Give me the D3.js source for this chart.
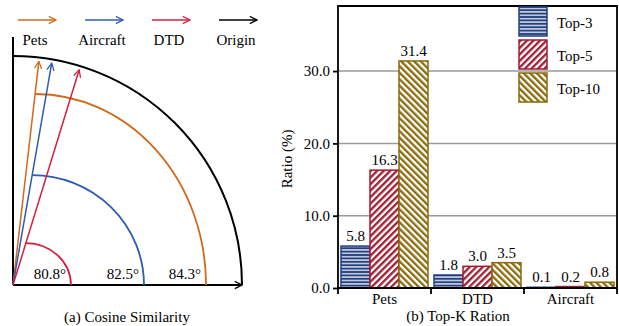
<!DOCTYPE html>
<html><head><meta charset="utf-8">
<script src="https://cdn.jsdelivr.net/npm/d3@7"></script>
<style>
body{margin:0;background:#fff;}
svg{display:block;font-family:"Liberation Serif","Times New Roman",serif;}
</style></head>
<body><svg id="fig" width="619" height="326"></svg>
<script>
// (a) cosine similarity sketch
const vecNames = ["Pets", "Aircraft", "DTD"];
const vecColors = ["#d06a1c", "#2d5cb0", "#d4203c"];
const angleLabels = [84.3, 82.5, 80.8];
const drawnAngles = [83.4, 80.1, 72.9];   // as sketched, degrees from the x axis
const arcReach = [0.843, 0.572, 0.253];   // where each arc lands on the x axis (unit radius)
const arcMeet = [0.834, 0.48, 0.183];     // height where the arc meets its vector
const vecLength = 0.983;

// (b) top-k ratio
const categories = ["Pets", "DTD", "Aircraft"];
const seriesNames = ["Top-3", "Top-5", "Top-10"];
const top3 = [5.8, 1.8, 0.1];
const top5 = [16.3, 3.0, 0.2];
const top10 = [31.4, 3.5, 0.8];
const yTicks = [0, 10, 20, 30];

const svg = d3.select("#fig");
const defs = svg.append("defs");

// arrow heads (open V)
function arrowMarker(id, color) {
    defs.append("marker")
        .attr("id", id)
        .attr("viewBox", "0 0 10 10")
        .attr("refX", 9).attr("refY", 5)
        .attr("markerWidth", 9).attr("markerHeight", 9)
        .attr("markerUnits", "userSpaceOnUse")
        .attr("orient", "auto")
        .append("path")
        .attr("d", "M1,1 L9,5 L1,9")
        .attr("fill", "none")
        .attr("stroke", color)
        .attr("stroke-width", 1.4);
}
vecColors.forEach((c, i) => arrowMarker("arr" + i, c));
arrowMarker("arrK", "#000");

// ---------- left panel ----------
const ox = 13, oy = 285;
const r = d3.scaleLinear().domain([0, 1]).range([0, 229]);
const gA = svg.append("g").attr("transform", `translate(${ox},${oy})`);

// legend row
const legNames = vecNames.concat(["Origin"]);
const legColors = vecColors.concat(["#000"]);
const legX = d3.scalePoint().domain(legNames).range([18, 219]);
legNames.forEach((n, i) => {
    const lx = legX(n);
    svg.append("line")
        .attr("x1", lx).attr("x2", lx + 38)
        .attr("y1", 20).attr("y2", 20)
        .attr("stroke", legColors[i]).attr("stroke-width", 1.5)
        .attr("marker-end", `url(#${i < 3 ? "arr" + i : "arrK"})`);
    svg.append("text")
        .attr("x", lx + 17).attr("y", 45)
        .attr("text-anchor", "middle")
        .attr("font-size", 15)
        .text(n);
});

// axes of the quarter
gA.append("line")
    .attr("x1", 0).attr("y1", 0).attr("x2", 0).attr("y2", -248)
    .attr("stroke", "#000").attr("stroke-width", 2);
gA.append("line")
    .attr("x1", 0).attr("y1", 0).attr("x2", r(1)).attr("y2", 0)
    .attr("stroke", "#000").attr("stroke-width", 2)
    .attr("marker-end", "url(#arrK)");

const outer = d3.path();
outer.arc(0, 0, r(1), -Math.PI / 2, 0);
gA.append("path")
    .attr("d", outer.toString())
    .attr("fill", "none").attr("stroke", "#000").attr("stroke-width", 2);

// angle arcs (drawn first so vectors sit on top)
vecNames.forEach((n, i) => {
    const a = drawnAngles[i] * Math.PI / 180;
    const h = r(arcMeet[i]);
    const xs = h / Math.tan(a);
    const xe = r(arcReach[i]);
    gA.append("path")
        .attr("d", `M${xs},${-h} A${xe - xs},${h} 0 0 1 ${xe},0`)
        .attr("fill", "none")
        .attr("stroke", vecColors[i]).attr("stroke-width", 1.8);
    gA.append("text")
        .attr("x", xe - 5).attr("y", -6)
        .attr("text-anchor", "end")
        .attr("font-size", 15)
        .text(angleLabels[i].toFixed(1) + "°");
});

vecNames.forEach((n, i) => {
    const a = drawnAngles[i] * Math.PI / 180;
    gA.append("line")
        .attr("x1", 0).attr("y1", 0)
        .attr("x2", r(vecLength) * Math.cos(a))
        .attr("y2", -r(vecLength) * Math.sin(a))
        .attr("stroke", vecColors[i]).attr("stroke-width", 1.5)
        .attr("marker-end", `url(#arr${i})`);
});

svg.append("text")
    .attr("x", 127).attr("y", 322)
    .attr("text-anchor", "middle")
    .attr("font-size", 15)
    .text("(a) Cosine Similarity");

// ---------- right panel ----------
const barColors = ["#223f80", "#a01d33", "#8a6a0a"];

// hatch patterns
const pH = defs.append("pattern")
    .attr("id", "pat0").attr("patternUnits", "userSpaceOnUse")
    .attr("width", 6).attr("height", 3.4);
pH.append("rect").attr("width", 6).attr("height", 3.4).attr("fill", barColors[0]);
pH.append("rect").attr("y", 1.1).attr("width", 6).attr("height", 1.2).attr("fill", "#fff");

[[1, 45], [2, -45]].forEach(([k, rot]) => {
    const p = defs.append("pattern")
        .attr("id", "pat" + k).attr("patternUnits", "userSpaceOnUse")
        .attr("width", 4.6).attr("height", 10)
        .attr("patternTransform", `rotate(${rot})`);
    p.append("rect").attr("width", 4.6).attr("height", 10).attr("fill", "#fff");
    p.append("rect").attr("width", 2.3).attr("height", 10).attr("fill", barColors[k]);
});

const x0 = d3.scaleBand().domain(categories).range([338, 617]);
const x1 = d3.scaleBand().domain(seriesNames).range([3, x0.bandwidth() - 3]);
const y = d3.scaleLinear().domain([0, 39]).range([288, 6]);

const gB = svg.append("g");

// grid
gB.selectAll(".grid")
    .data(yTicks.filter(d => d > 0))
    .join("line")
    .attr("x1", 338).attr("x2", 617)
    .attr("y1", d => y(d)).attr("y2", d => y(d))
    .attr("stroke", "#9a9a9a").attr("stroke-width", 1.5);

const series = [top3, top5, top10];
seriesNames.forEach((s, k) => {
    const rows = categories.map((c, j) => ({ c: c, v: series[k][j] }));
    gB.append("g").selectAll("rect")
        .data(rows)
        .join("rect")
        .attr("x", d => x0(d.c) + x1(s))
        .attr("y", d => y(d.v))
        .attr("width", x1.bandwidth())
        .attr("height", d => y(0) - y(d.v))
        .attr("fill", `url(#pat${k})`)
        .attr("stroke", barColors[k]).attr("stroke-width", 1.5);
    gB.append("g").selectAll("text")
        .data(rows)
        .join("text")
        .attr("x", d => x0(d.c) + x1(s) + x1.bandwidth() / 2)
        .attr("y", d => y(d.v) - 5)
        .attr("text-anchor", "middle")
        .attr("font-size", 15)
        .text(d => d.v.toFixed(1));
});

// frame
gB.append("path")
    .attr("d", `M338,288 V6 H617 V288`)
    .attr("fill", "none").attr("stroke", "#000").attr("stroke-width", 1.8);
gB.append("line")
    .attr("x1", 338).attr("x2", 617).attr("y1", 288).attr("y2", 288)
    .attr("stroke", "#000").attr("stroke-width", 2);

// y axis
const yAxis = gB.append("g")
    .attr("transform", "translate(338,0)")
    .call(d3.axisLeft(y).tickValues(yTicks).tickFormat(d3.format(".1f")).tickSize(5).tickPadding(3));
yAxis.select(".domain").remove();
yAxis.selectAll("line").attr("stroke-width", 1.8);
yAxis.selectAll("text").attr("font-size", 15).attr("font-family", "Liberation Serif").attr("fill", "#000");

// x axis: ticks on band boundaries, labels in the middle
const bounds = categories.map(c => x0(c)).concat([x0.range()[1]]);
gB.selectAll(".xt")
    .data(bounds)
    .join("line")
    .attr("x1", d => d).attr("x2", d => d)
    .attr("y1", 288).attr("y2", 294)
    .attr("stroke", "#000").attr("stroke-width", 1.8);
gB.selectAll(".xl")
    .data(categories)
    .join("text")
    .attr("x", d => x0(d) + x0.bandwidth() / 2)
    .attr("y", 304)
    .attr("text-anchor", "middle")
    .attr("font-size", 15)
    .text(d => d);

svg.append("text")
    .attr("transform", "translate(292,159) rotate(-90)")
    .attr("text-anchor", "middle")
    .attr("font-size", 15)
    .text("Ratio (%)");

svg.append("text")
    .attr("x", 458).attr("y", 321)
    .attr("text-anchor", "middle")
    .attr("font-size", 15)
    .text("(b) Top-K Ration");

// legend
seriesNames.forEach((s, k) => {
    svg.append("rect")
        .attr("x", 519).attr("y", 7 + k * 33)
        .attr("width", 28).attr("height", 29)
        .attr("fill", `url(#pat${k})`)
        .attr("stroke", barColors[k]).attr("stroke-width", 1.5);
    svg.append("text")
        .attr("x", 557).attr("y", 28 + k * 33)
        .attr("font-size", 15)
        .text(s);
});
</script>
</body></html>
